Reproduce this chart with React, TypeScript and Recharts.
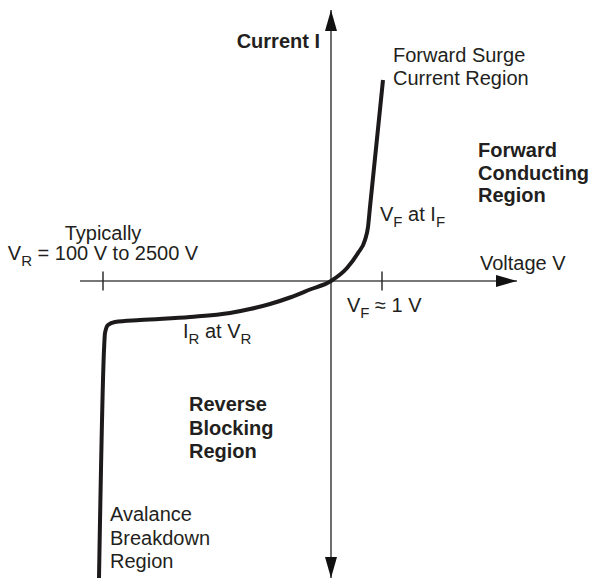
import { LineChart, Line, XAxis, YAxis, ReferenceLine, ReferenceDot } from "recharts";

const WIDTH = 597;
const HEIGHT = 584;

const CURVE_COLOR = "#1c1a1a";
const AXIS_COLOR = "#4a4a4a";
const TEXT_COLOR = "#231f20";
const FONT = "'Liberation Sans', Arial, Helvetica, sans-serif";

// schematic units (origin at the axes crossing)
const voltage = [-232, -227, -226, -223, -216, -191, -141, -101, -81, -61, -41, -21, 0, 16, 27, 34, 37, 39, 52];
const current = [-297, -69, -52, -44, -41, -39, -36, -32, -28, -23, -16.5, -8.5, 0, 13, 28, 41, 54, 74, 201];

const X_DOMAIN = [-331, 266];
const Y_DOMAIN = [-303, 281];

const H_AXIS = { from: -251, to: 186 };
const V_AXIS = { from: -297, to: 271 };
const TICKS_V = [-228, 51];
const TICK_HALF = 9.5;

type Part = { t: string; sub?: boolean };
type Label = { x: number; y: number; lines: Part[][]; bold?: boolean; anchor?: "start" | "middle" | "end"; gap?: number };

const labels: Label[] = [
  { x: -11, y: 233, bold: true, anchor: "end", lines: [[{ t: "Current I" }]] },
  { x: 62, y: 219, gap: 23, lines: [[{ t: "Forward Surge" }], [{ t: "Current Region" }]] },
  { x: 147, y: 124, bold: true, gap: 22.5, lines: [[{ t: "Forward" }], [{ t: "Conducting" }], [{ t: "Region" }]] },
  { x: 49, y: 60, lines: [[{ t: "V" }, { t: "F", sub: true }, { t: " at I" }, { t: "F", sub: true }]] },
  { x: -228, y: 41, anchor: "middle", gap: 20, lines: [[{ t: "Typically" }], [{ t: "V" }, { t: "R", sub: true }, { t: " = 100 V to 2500 V" }]] },
  { x: 149, y: 11, lines: [[{ t: "Voltage V" }]] },
  { x: 16, y: -31, lines: [[{ t: "V" }, { t: "F", sub: true }, { t: " \u2248 1 V" }]] },
  { x: -148, y: -57, lines: [[{ t: "I" }, { t: "R", sub: true }, { t: " at V" }, { t: "R", sub: true }]] },
  { x: -142, y: -130, bold: true, gap: 23.5, lines: [[{ t: "Reverse" }], [{ t: "Blocking" }], [{ t: "Region" }]] },
  { x: -221, y: -240, gap: 23.5, lines: [[{ t: "Avalance" }], [{ t: "Breakdown" }], [{ t: "Region" }]] },
];

const chartData = voltage.map((v, i) => ({ v, i: current[i] }));

const arrowHead = (x1: number, y1: number, x2: number, y2: number, len: number, half: number) => {
  const dx = x2 - x1;
  const dy = y2 - y1;
  const d = Math.hypot(dx, dy) || 1;
  const ux = dx / d;
  const uy = dy / d;
  const bx = x2 - ux * len;
  const by = y2 - uy * len;
  return `${x2},${y2} ${bx - uy * half},${by + ux * half} ${bx + uy * half},${by - ux * half}`;
};

const AxisArrow = (both: boolean) => (props: any) => {
  const { x1, y1, x2, y2 } = props;
  return (
    <g>
      <line x1={x1} y1={y1} x2={x2} y2={y2} stroke={AXIS_COLOR} strokeWidth={1.6} />
      <polygon points={arrowHead(x1, y1, x2, y2, 21, 6)} fill="#111" />
      {both && <polygon points={arrowHead(x2, y2, x1, y1, 21, 6)} fill="#111" />}
    </g>
  );
};

const TickMark = (props: any) => {
  const { x1, y1, x2, y2 } = props;
  return <line x1={x1} y1={y1} x2={x2} y2={y2} stroke="#222" strokeWidth={1.4} />;
};

const renderLabel = (lab: Label) => (props: any) => {
  const { cx, cy } = props;
  return (
    <text
      x={cx}
      y={cy}
      textAnchor={lab.anchor ?? "start"}
      fontFamily={FONT}
      fontSize={20}
      fontWeight={lab.bold ? 700 : 400}
      fill={TEXT_COLOR}
    >
      {lab.lines.map((parts, li) => (
        <tspan key={li} x={cx} y={cy + li * (lab.gap ?? 23)}>
          {parts.map((p, pi) =>
            p.sub ? (
              <tspan key={pi} fontSize={15} dy={6}>
                {p.t}
              </tspan>
            ) : (
              <tspan key={pi} dy={pi > 0 && parts[pi - 1].sub ? -6 : 0}>
                {p.t}
              </tspan>
            )
          )}
        </tspan>
      ))}
    </text>
  );
};

export default function App() {
  return (
    <div style={{ position: "absolute", left: 0, top: 0, background: "#fff" }}>
      <LineChart width={WIDTH} height={HEIGHT} data={chartData} margin={{ top: 0, right: 0, bottom: 0, left: 0 }}>
        <XAxis dataKey="v" type="number" domain={X_DOMAIN} hide allowDataOverflow />
        <YAxis type="number" domain={Y_DOMAIN} hide allowDataOverflow />
        <ReferenceLine
          segment={[{ x: H_AXIS.from, y: 0 }, { x: H_AXIS.to, y: 0 }]}
          shape={AxisArrow(false)}
        />
        <ReferenceLine
          segment={[{ x: 0, y: V_AXIS.from }, { x: 0, y: V_AXIS.to }]}
          shape={AxisArrow(true)}
        />
        {TICKS_V.map((t) => (
          <ReferenceLine key={t} segment={[{ x: t, y: -TICK_HALF }, { x: t, y: TICK_HALF }]} shape={TickMark} />
        ))}
        <Line
          type="monotone"
          dataKey="i"
          stroke={CURVE_COLOR}
          strokeWidth={4}
          dot={false}
          activeDot={false}
          isAnimationActive={false}
        />
        {labels.map((lab, k) => (
          <ReferenceDot key={k} x={lab.x} y={lab.y} r={0} shape={renderLabel(lab)} />
        ))}
      </LineChart>
    </div>
  );
}
